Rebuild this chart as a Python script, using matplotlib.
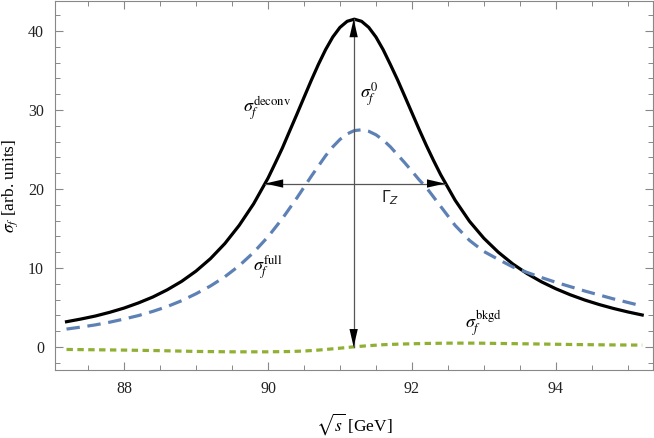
import matplotlib
matplotlib.use("Agg")
import matplotlib.pyplot as plt
from matplotlib.ticker import MultipleLocator

plt.rcParams['font.family'] = ['Liberation Serif', 'DejaVu Serif']
plt.rcParams['mathtext.fontset'] = 'stix'

# black: deconvoluted cross section
x_deconv = [87.2, 87.4, 87.6, 87.8, 88.0, 88.2, 88.4, 88.6, 88.8, 89.0, 89.2, 89.4,
            89.6, 89.8, 90.0, 90.1, 90.2, 90.3, 90.4, 90.5, 90.6, 90.7, 90.8, 90.9,
            91.0, 91.1, 91.2, 91.3, 91.4, 91.5, 91.6, 91.7, 91.8, 91.9, 92.0, 92.1,
            92.2, 92.3, 92.4, 92.6, 92.8, 93.0, 93.2, 93.4, 93.6, 93.8, 94.0, 94.2,
            94.4, 94.6, 94.8, 95.0, 95.2]
y_deconv = [3.21, 3.55, 3.93, 4.40, 4.94, 5.59, 6.34, 7.25, 8.32, 9.62, 11.19, 13.10,
            15.41, 18.13, 21.38, 23.27, 25.20, 27.33, 29.44, 31.59, 33.73, 35.77, 37.64, 39.24,
            40.46, 41.23, 41.50, 41.23, 40.46, 39.24, 37.64, 35.77, 33.83, 31.75, 29.65, 27.55,
            25.53, 23.62, 21.81, 18.59, 15.92, 13.77, 12.01, 10.53, 9.30, 8.26, 7.38, 6.62,
            5.96, 5.39, 4.89, 4.45, 4.06]

# blue dashed: full cross section
x_full = [87.2, 87.4, 87.6, 87.8, 88.0, 88.2, 88.4, 88.6, 88.8, 89.0, 89.2, 89.4,
          89.6, 89.8, 90.0, 90.2, 90.4, 90.6, 90.8, 90.9, 91.0, 91.1, 91.2, 91.3,
          91.4, 91.5, 91.6, 91.7, 91.8, 91.9, 92.0, 92.1, 92.2, 92.4, 92.6, 92.8,
          93.0, 93.2, 93.4, 93.6, 93.8, 94.0, 94.2, 94.4, 94.6, 94.8, 95.0, 95.2]
y_full = [2.28, 2.53, 2.81, 3.15, 3.55, 3.99, 4.52, 5.13, 5.87, 6.75, 7.73, 8.90,
          10.30, 11.98, 13.96, 16.27, 18.86, 21.60, 24.21, 25.34, 26.28, 26.98, 27.40, 27.50,
          27.31, 26.87, 26.21, 25.35, 24.34, 23.33, 22.26, 21.17, 20.20, 17.80, 15.40, 13.50,
          12.10, 11.10, 10.15, 9.45, 8.80, 8.20, 7.65, 7.10, 6.60, 6.10, 5.65, 5.20]

# green dotted: background
x_bkgd = [87.2, 87.5, 88.0, 88.5, 89.0, 89.5, 90.0, 90.3, 90.5, 90.7, 90.9, 91.0,
          91.2, 91.4, 91.6, 91.83, 92.2, 92.53, 92.9, 93.2, 93.7, 94.2, 94.7, 95.2]
y_bkgd = [-0.30, -0.33, -0.38, -0.45, -0.55, -0.60, -0.60, -0.56, -0.50, -0.38, -0.22, -0.14,
          0.04, 0.18, 0.30, 0.38, 0.46, 0.50, 0.50, 0.46, 0.40, 0.33, 0.28, 0.25]

peak_x, peak_y = 91.19, 41.5
half_left, half_right, half_y = 89.96, 92.46, 20.7

xticks = [88, 90, 92, 94]
yticks = [0, 10, 20, 30, 40]

fig = plt.figure(figsize=(6.54, 4.38), dpi=100)
ax = fig.add_axes([55/654, 68/438, 598/654, 369/438])

ax.plot(x_deconv, y_deconv, color='black', lw=2.3, solid_joinstyle='round')
ax.plot(x_full, y_full, color='#5E81B5', lw=2.3, dashes=(4.2, 2.4))
ax.plot(x_bkgd, y_bkgd, color='#8FB032', lw=2.3, dashes=(2.0, 1.4))

# arrow shafts (gray) and heads (black)
ax.plot([peak_x, peak_x], [0, peak_y], color='#555555', lw=0.9)
ax.plot([half_left, half_right], [half_y, half_y], color='#555555', lw=0.9)
arrow_kw = dict(arrowstyle='<|-|>,head_length=1.3,head_width=0.3',
                color='black', lw=0, shrinkA=0, shrinkB=0, mutation_scale=10)
ax.annotate('', xy=(peak_x, peak_y), xytext=(peak_x, 0), arrowprops=arrow_kw)
ax.annotate('', xy=(half_left, half_y), xytext=(half_right, half_y), arrowprops=arrow_kw)

fs = 13
ax.text(89.99, 30.2, r'$\sigma_f^{\mathrm{deconv}}$', fontsize=fs, ha='center', va='center')
ax.text(91.40, 31.9, r'$\sigma_f^{0}$', fontsize=fs, ha='center', va='center')
ax.text(91.69, 18.9, r'$\Gamma_Z$', fontsize=11, ha='center', va='center',
        math_fontfamily='dejavusans', color='#222222')
ax.text(90.0, 10.0, r'$\sigma_f^{\mathrm{full}}$', fontsize=fs, ha='center', va='center')
ax.text(93.0, 2.9, r'$\sigma_f^{\mathrm{bkgd}}$', fontsize=fs, ha='center', va='center')

ax.set_xlim(87.04, 95.35)
ax.set_ylim(-2.9, 43.8)
ax.set_xticks(xticks)
ax.set_yticks(yticks)
ax.xaxis.set_minor_locator(MultipleLocator(0.5))
ax.yaxis.set_minor_locator(MultipleLocator(2))
ax.tick_params(which='both', direction='in', top=True, right=True, color='#888888',
               labelsize=11.5, labelcolor='#222222')
ax.tick_params(which='major', length=6, width=0.8, pad=8)
ax.tick_params(which='minor', length=3.5, width=0.7)
for s in ax.spines.values():
    s.set_color('#888888')
    s.set_linewidth(0.8)

ax.set_xlabel(r'$\sqrt{s}$ [GeV]', fontsize=12.5, labelpad=10)
ax.set_ylabel(r'$\sigma_f$ [arb. units]', fontsize=12.5, labelpad=6)

fig.savefig('out.png', dpi=100)
